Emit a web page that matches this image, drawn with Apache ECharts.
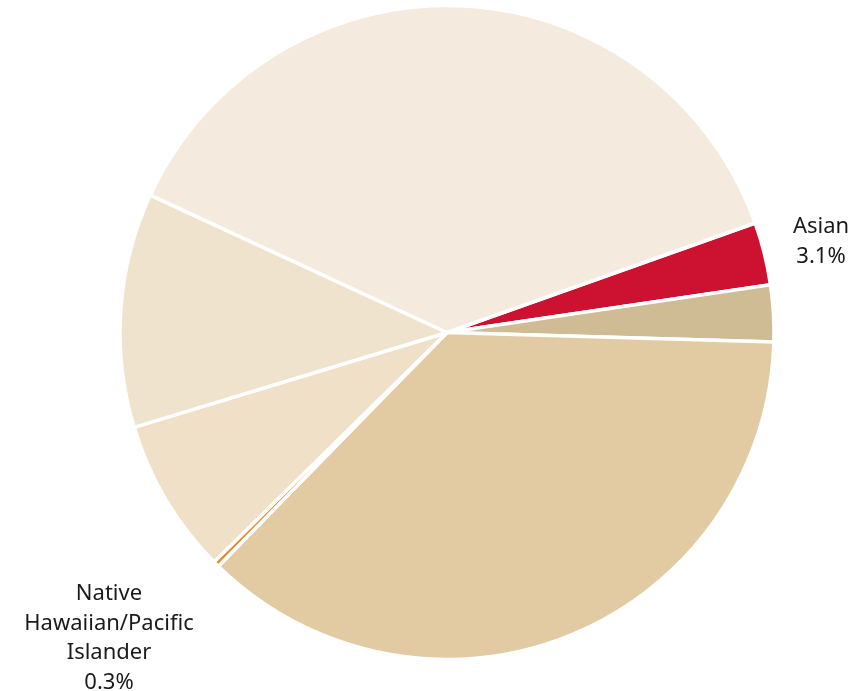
<!DOCTYPE html>
<html>
<head>
<meta charset="utf-8">
<script src="https://cdn.jsdelivr.net/npm/echarts@6/dist/echarts.min.js"></script>
<style>
html,body{margin:0;padding:0;background:#fff;}
#chart{width:867px;height:691px;}
</style>
</head>
<body>
<div id="chart"></div>
<script>
// Data (clockwise from the Asian slice)
const categories = [
  'Asian',
  'Two or More Races',
  'Hispanic/Latino',
  'Native Hawaiian/Pacific Islander',
  'American Indian/Alaska Native',
  'Black/African American',
  'White'
];
const values = [3.1, 2.8, 36.9, 0.3, 7.7, 11.6, 37.7];
const labelLines = {
  'Asian': 'Asian',
  'Native Hawaiian/Pacific Islander': 'Native\nHawaiian/Pacific\nIslander'
};

// Styles
const colors = ['#CD1130', '#CFBB94', '#E2CBA2', '#E08A2E', '#F0E0C8', '#F0E3CD', '#F4EBDE'];
const CX = 447, CY = 332.5, R = 327;
const labelOffset = { 'Asian': [374, -91], 'Native Hawaiian/Pacific Islander': [-338, 305.5] };

const chart = echarts.init(document.getElementById('chart'), null, {renderer: 'canvas'});
const data = categories.map((c, i) => ({
  name: c,
  value: values[i],
  itemStyle: { color: colors[i] },
  label: { show: !!labelLines[c] }
}));

chart.setOption({
  animation: false,
  backgroundColor: '#ffffff',
  series: [{
    type: 'pie',
    center: [CX, CY],
    radius: [0, R],
    startAngle: 19.56,
    clockwise: true,
    avoidLabelOverlap: false,
    itemStyle: { borderColor: '#ffffff', borderWidth: 3.5 },
    label: {
      show: false,
      position: 'outside',
      formatter: p => labelLines[p.name] + '\n' + p.value.toFixed(1) + '%',
      fontFamily: 'Noto Sans',
      fontSize: 22,
      lineHeight: 29.5,
      color: '#1a1a1a',
      align: 'center'
    },
    labelLine: { show: false },
    labelLayout: function (p) {
      const name = categories[p.dataIndex];
      const off = labelOffset[name];
      if (!off) return {};
      return { x: CX + off[0], y: CY + off[1], align: 'center', verticalAlign: 'middle' };
    },
    emphasis: { disabled: true },
    data: data
  }]
});
</script>
</body>
</html>
